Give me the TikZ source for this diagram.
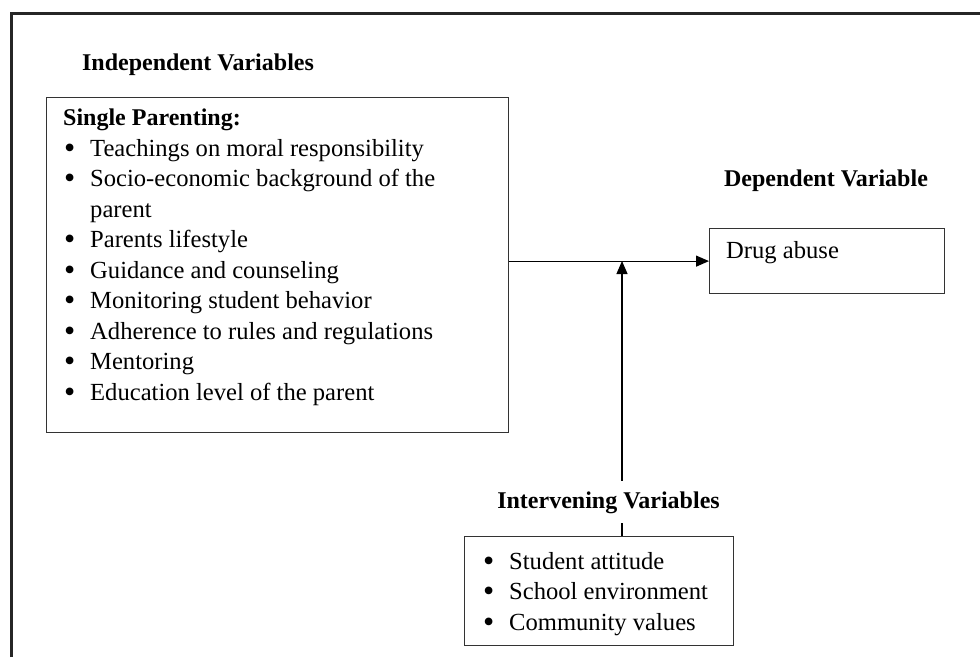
\documentclass[tikz,border=0pt]{standalone}
\usepackage{fontspec}
\setmainfont{Liberation Serif}
\usetikzlibrary{arrows.meta}
\newcommand{\bul}{\hspace*{1pt}\makebox[26pt][l]{\raisebox{-2pt}{\fontsize{32}{32}\selectfont\textbullet}}}

\begin{document}
\begin{tikzpicture}[x=1pt,y=-1pt,
  every node/.style={font=\fontsize{24.6}{30.5}\selectfont,inner sep=0pt},
  head/.style={font=\fontsize{24}{30.5}\selectfont\bfseries,anchor=base},
  txt/.style={align=left,anchor=base west},
  box/.style={draw=black!80,line width=1.2pt,anchor=north west},
  arr/.style={-{Triangle[length=13pt,width=11pt]},line width=1.2pt}]
\useasboundingbox (0,0) rectangle (980,657);
\draw[line width=3pt,draw=black!85](11.5,657)|-(980,13.5);

\node[head](indephead) at (198,70){Independent Variables};
\node[box,minimum width=462,minimum height=335](indep) at (46,97){};
\node[txt](indeptxt) at (63,400){{\fontsize{24}{30.5}\selectfont\bfseries Single Parenting:}\\
 \bul Teachings on moral responsibility\\
 \bul Socio-economic background of the\\
 \hspace*{27pt}parent\\
 \bul Parents lifestyle\\
 \bul Guidance and counseling\\
 \bul Monitoring student behavior\\
 \bul Adherence to rules and regulations\\
 \bul Mentoring\\
 \bul Education level of the parent};

\node[head](dephead) at (826,186){Dependent Variable};
\node[box,minimum width=235,minimum height=65](drug) at (709,228){};
\node[txt](drugtxt) at (726,258){Drug abuse};

\node[box,minimum width=269,minimum height=109](interv) at (464,536){};
\node[txt](intervtxt) at (482,630){\bul Student attitude\\
 \bul School environment\\
 \bul Community values};

\coordinate(jn) at (622,261);
\draw[arr](indep.east|-drug.west)--(drug.west);
\draw[arr](interv.north-|jn)--(jn);
\node[head,fill=white,inner ysep=10pt,inner xsep=2pt](intervhead) at (608.5,508){Intervening Variables};

\end{tikzpicture}
\end{document}
